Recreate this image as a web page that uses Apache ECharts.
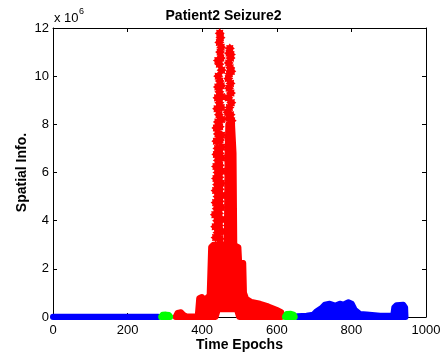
<!DOCTYPE html>
<html>
<head>
<meta charset="utf-8">
<script src="https://cdn.jsdelivr.net/npm/echarts@6/dist/echarts.min.js"></script>
<style>
html,body{margin:0;padding:0;background:#fff;}
#chart{width:447px;height:356px;}
</style>
</head>
<body>
<div id="chart"></div>
<script>
// Values in units of 1e6 (axis multiplier "x 10^6"), x = time epoch
const xTicks = [0, 200, 400, 600, 800, 1000];
const yTicks = [0, 2, 4, 6, 8, 10, 12];

// Blue (pre-ictal) envelope
const blueLeadUpper = [[0, 0.01], [282, 0.01]];
const blueLeadLower = [[0, 0], [282, 0]];
// Green transition 1
const green1Upper = [[290, 0.02], [294, 0.09], [303, 0.1], [311, 0.08], [314, 0.02]];
const green1Lower = [[290, 0], [314, 0]];
// Red (ictal) body envelope
const redBodyUpper = [[329, 0.02], [334, 0.17], [343, 0.2], [350, 0.08], [358, 0.02], [388, 0.02], [392, 0.78], [399, 0.83], [405, 0.72], [412, 0.78], [420, 0.9], [424, 2.9], [430, 3.0], [460, 3.0], [490, 2.95], [497, 2.9], [499, 2.3], [510, 2.25], [512, 1.0], [518, 0.75], [532, 0.62], [555, 0.55], [577, 0.44], [599, 0.3], [612, 0.2]];
const redBodyLower = [[329, 0], [436, 0], [442, 0.32], [493, 0.32], [499, 0], [612, 0]];
// Red right column (dense)
const redColUpper = [[466, 3.0], [468, 6.8], [470, 8.0], [480, 8.0], [484, 6.8], [486, 3.0]];
const redColLower = [[466, 2.9], [486, 2.9]];
// Red scattered points, left column
const redLeftStars = [[436, 3.3], [448, 3.25], [441, 3.5], [453, 3.55], [435, 3.75], [446, 3.8], [440, 4.0], [452, 4.05], [434, 4.25], [445, 4.3],
  [439, 4.5], [451, 4.55], [436, 4.75], [447, 4.8], [441, 5.0], [453, 5.05], [436, 5.25], [447, 5.3], [440, 5.5], [451, 5.55],
  [437, 5.75], [446, 5.8], [441, 6.0], [452, 6.05], [437, 6.25], [447, 6.3], [442, 6.5], [452, 6.6], [438, 6.75], [447, 6.8],
  [441, 7.0], [452, 7.05], [438, 7.3], [448, 7.35], [442, 7.6], [452, 7.55], [438, 7.85], [447, 7.9],
  [442, 8.1], [452, 8.2], [445, 8.4], [440, 8.65], [451, 8.7], [446, 8.9], [441, 9.1], [452, 9.15], [446, 9.35], [442, 9.55],
  [451, 9.6], [447, 9.8], [443, 10.0], [452, 10.25], [446, 10.5], [442, 10.65], [450, 10.75], [448, 11.0], [451, 11.2],
  [446, 11.4], [449, 11.6], [447, 11.78]];
// Red scattered points, right column top
const redRightStars = [[474, 11.15], [472, 10.95], [477, 10.9], [476, 10.75], [471, 10.55], [475, 10.35], [478, 10.2], [473, 10.1],
  [470, 9.9], [476, 9.7], [472, 9.5], [477, 9.3], [470, 9.1], [478, 8.9], [473, 8.7], [468, 8.5], [476, 8.4], [471, 8.25], [479, 8.15]];
// Green transition 2
const green2Upper = [[622, 0.02], [626, 0.12], [638, 0.13], [645, 0.1], [648, 0.02]];
const green2Lower = [[622, 0], [648, 0]];
// Blue (post-ictal) envelope
const blueTailUpper = [[655, 0.03], [680, 0.05], [698, 0.1], [707, 0.24], [720, 0.37], [729, 0.51], [742, 0.55], [756, 0.47], [769, 0.55], [778, 0.51], [792, 0.61], [801, 0.55], [809, 0.3], [823, 0.12], [841, 0.1], [877, 0.05], [912, 0.05], [915, 0.4], [921, 0.49], [939, 0.51], [944, 0.4], [945, 0.02]];
const blueTailLower = [[655, 0], [945, 0]];

const BLUE = '#0000ff', RED = '#ff0000', GREEN = '#00ff00';
const FONT = 'Liberation Sans, Arial, Helvetica, sans-serif';
const STAR = 'path://M10,0L6.5,2.7L7.07,7.07L2.7,6.5L0,10L-2.7,6.5L-7.07,7.07L-6.5,2.7L-10,0L-6.5,-2.7L-7.07,-7.07L-2.7,-6.5L0,-10L2.7,-6.5L7.07,-7.07L6.5,-2.7Z';

function band(name, upper, lower, color, z) {
  return {
    type: 'custom', name: name, data: upper, encode: { x: 0, y: 1 }, clip: false, z: z, silent: true,
    renderItem: function (params, api) {
      if (params.dataIndex !== 0) return null;
      const pts = upper.map(p => api.coord([p[0], p[1]]))
        .concat(lower.slice().reverse().map(p => api.coord([p[0], p[1]])));
      return { type: 'polygon', shape: { points: pts },
        style: { fill: color, stroke: color, lineWidth: 6, lineJoin: 'round' } };
    }
  };
}
function stars(name, data, color, z) {
  return { type: 'scatter', name: name, data: data, symbol: STAR, symbolSize: 10, clip: false, z: z, silent: true,
    itemStyle: { color: color, opacity: 1 } };
}

const axisCommon = {
  type: 'value', splitLine: { show: false },
  axisLine: { show: true, onZero: false, lineStyle: { color: '#000', width: 1 } },
  axisTick: { show: true, inside: true, length: 4, lineStyle: { color: '#000' } }
};

const chart = echarts.init(document.getElementById('chart'), null, { renderer: 'canvas' });
chart.setOption({
  animation: false,
  backgroundColor: '#fff',
  title: { text: 'Patient2 Seizure2', left: 'center', top: 4, textStyle: { fontFamily: FONT, fontSize: 14, fontWeight: 'bold', color: '#000' } },
  grid: { left: 53, right: 21, top: 28, bottom: 39, containLabel: false, outerBoundsMode: 'none' },
  xAxis: [
    Object.assign({}, axisCommon, { min: xTicks[0], max: xTicks[xTicks.length - 1], interval: 200, position: 'bottom',
      axisLabel: { color: '#000', fontSize: 13, fontFamily: FONT, margin: 7, formatter: v => String(v) },
      name: 'Time Epochs', nameLocation: 'middle', nameGap: 21, nameMoveOverlap: false,
      nameTextStyle: { fontFamily: FONT, fontSize: 14, fontWeight: 'bold', color: '#000' } }),
    Object.assign({}, axisCommon, { min: xTicks[0], max: xTicks[xTicks.length - 1], interval: 200, position: 'top',
      axisLabel: { show: false } })
  ],
  yAxis: [
    Object.assign({}, axisCommon, { min: yTicks[0], max: yTicks[yTicks.length - 1], interval: 2, position: 'left',
      axisLabel: { color: '#000', fontSize: 13, fontFamily: FONT, margin: 4, formatter: v => String(v) },
      name: 'Spatial Info.', nameLocation: 'middle', nameGap: 24, nameMoveOverlap: false,
      nameTextStyle: { fontFamily: FONT, fontSize: 14, fontWeight: 'bold', color: '#000' } }),
    Object.assign({}, axisCommon, { min: yTicks[0], max: yTicks[yTicks.length - 1], interval: 2, position: 'right',
      axisLabel: { show: false } })
  ],
  graphic: [
    { type: 'text', left: 54, top: 12, style: { text: 'x 10', fontSize: 13, fontFamily: FONT, fill: '#000' } },
    { type: 'text', left: 79, top: 7, style: { text: '6', fontSize: 9, fontFamily: FONT, fill: '#000' } }
  ],
  series: [
    band('blueLead', blueLeadUpper, blueLeadLower, BLUE, 2),
    band('blueTail', blueTailUpper, blueTailLower, BLUE, 2),
    band('redBody', redBodyUpper, redBodyLower, RED, 3),
    band('redCol', redColUpper, redColLower, RED, 3),
    stars('redLeft', redLeftStars, RED, 4),
    stars('redRight', redRightStars, RED, 4),
    band('green1', green1Upper, green1Lower, GREEN, 5),
    band('green2', green2Upper, green2Lower, GREEN, 5)
  ]
});
</script>
</body>
</html>
